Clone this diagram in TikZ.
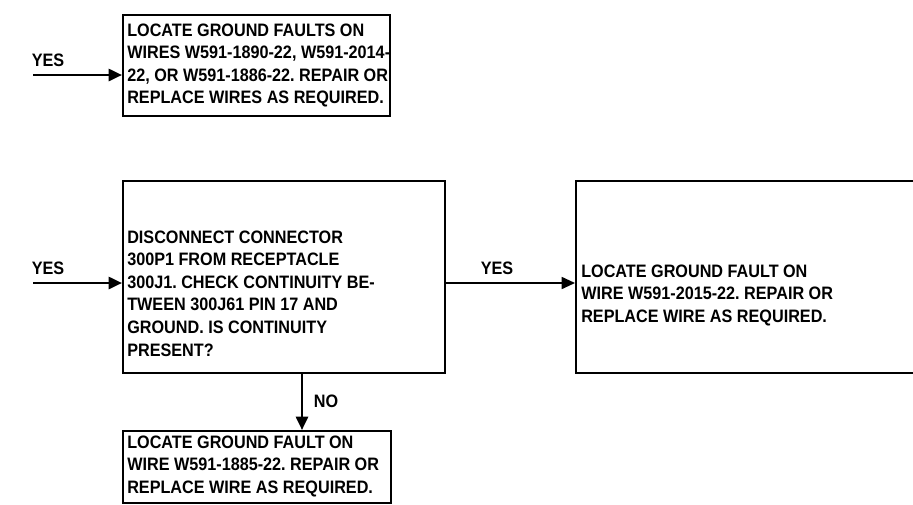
\documentclass[tikz,border=0pt]{standalone}
\usepackage{fontspec}
\setmainfont{Liberation Sans}[FakeStretch=0.9]
\usetikzlibrary{arrows.meta}
\begin{document}
\frenchspacing
\begin{tikzpicture}[x=0.75pt,y=-0.75pt,
  box/.style={draw,line width=1.7pt,rectangle,inner sep=0pt,anchor=north west},
  txt/.style={anchor=north west,align=left,inner sep=0pt,font=\fontsize{13.5}{16.9}\selectfont\bfseries},
  lbl/.style={inner sep=0pt,font=\fontsize{13.5}{15}\selectfont\bfseries},
  arr/.style={line width=2pt,-{Triangle[length=10pt,width=9pt]}},
  arrthin/.style={line width=1.3pt,-{Triangle[length=10pt,width=9pt]}}]
\useasboundingbox (0,0) rectangle (913,504);
% boxes
\node[box,minimum width=267*0.75pt,minimum height=101*0.75pt] (b1) at (122,14) {};
\node[box,minimum width=322*0.75pt,minimum height=192*0.75pt] (b2) at (122,180) {};
\node[box,minimum width=345*0.75pt,minimum height=192*0.75pt] (b3) at (575,180) {};
\node[box,minimum width=268*0.75pt,minimum height=72*0.75pt] (b4) at (122,430) {};
% texts
\node[txt] (t1) at (127,23.5) {LOCATE GROUND FAULTS ON\\WIRES W591-1890-22, W591-2014-\\22, OR W591-1886-22. REPAIR OR\\REPLACE WIRES AS REQUIRED.};
\node[txt] (t2) at (127,230.5) {DISCONNECT CONNECTOR\\300P1 FROM RECEPTACLE\\300J1. CHECK CONTINUITY BE-\\TWEEN 300J61 PIN 17 AND\\GROUND. IS CONTINUITY\\PRESENT?};
\node[txt] (t3) at (581,264.5) {LOCATE GROUND FAULT ON\\WIRE W591-2015-22. REPAIR OR\\REPLACE WIRE AS REQUIRED.};
\node[txt] (t4) at (127,435.5) {LOCATE GROUND FAULT ON\\WIRE W591-1885-22. REPAIR OR\\REPLACE WIRE AS REQUIRED.};
% connectors
\coordinate (s1) at (33,75);
\coordinate (s2) at (33,283);
\draw[arr] (s1) -- (b1.west |- s1);
\draw[arr] (s2) -- (b2.west |- s2);
\draw[arrthin] (b2.east |- s2) -- (b3.west |- s2);
\draw[arr] (302,372) -- (302,430);
% labels
\node[lbl] (y1) at (48,60) {YES};
\node[lbl] (y2) at (48,268) {YES};
\node[lbl] (y3) at (497,268) {YES};
\node[lbl] (n1) at (326,401) {NO};
\end{tikzpicture}
\end{document}
